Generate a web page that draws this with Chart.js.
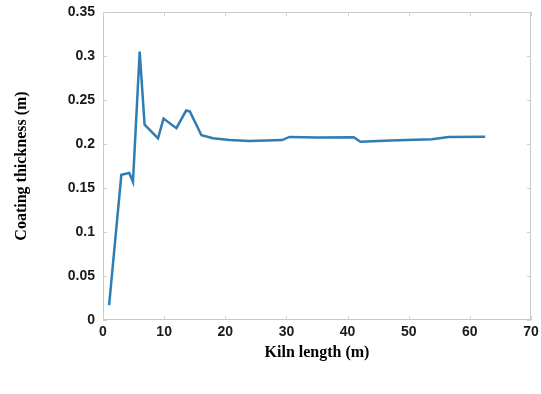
<!DOCTYPE html>
<html><head><meta charset="utf-8">
<script src="https://cdn.jsdelivr.net/npm/chart.js@4"></script>
<style>html,body{margin:0;padding:0;background:#fff}#w{width:541px;height:394px}</style>
</head><body><div id="w"><canvas id="c" width="541" height="394"></canvas></div>
<script>
const kilnLength = [1, 3.0, 4.3, 4.9, 6.0, 6.8, 9.0, 9.9, 12.0, 13.6, 14.2, 16.1, 18, 20.7, 24, 29.3, 30.5, 35, 41, 42.1, 47, 53.8, 56.5, 62.5];
const thickness  = [0.017, 0.165, 0.167, 0.157, 0.305, 0.222, 0.2065, 0.229, 0.218, 0.238, 0.237, 0.210, 0.2065, 0.2045, 0.2035, 0.2045, 0.208, 0.2075, 0.2076, 0.2026, 0.204, 0.2053, 0.208, 0.2083];
const xTicks = [0, 10, 20, 30, 40, 50, 60, 70];
const yTicks = ['0', '0.05', '0.1', '0.15', '0.2', '0.25', '0.3', '0.35'];

const frame = {
  id: 'frame',
  afterDraw(chart) {
    const {ctx, chartArea: a, scales} = chart;
    ctx.save();
    ctx.strokeStyle = '#c8c8c8';
    ctx.lineWidth = 1;
    ctx.strokeRect(a.left + 0.5, a.top + 0.5, a.right - a.left - 1, a.bottom - a.top - 1);
    ctx.strokeStyle = '#d0d0d0';
    ctx.beginPath();
    xTicks.forEach(v => { const x = Math.round(scales.x.getPixelForValue(v)) + 0.5;
      ctx.moveTo(x, a.bottom); ctx.lineTo(x, a.bottom - 4); ctx.moveTo(x, a.top); ctx.lineTo(x, a.top + 4); });
    yTicks.forEach(v => { const y = Math.round(scales.y.getPixelForValue(+v)) + 0.5;
      ctx.moveTo(a.left, y); ctx.lineTo(a.left + 4, y); ctx.moveTo(a.right, y); ctx.lineTo(a.right - 4, y); });
    ctx.stroke();
    ctx.restore();
  }
};

new Chart(document.getElementById('c'), {
  type: 'line',
  data: { datasets: [{
    data: kilnLength.map((x, i) => ({x, y: thickness[i]})),
    borderColor: '#2f7db3', borderWidth: 2.5, pointRadius: 0, tension: 0, fill: false
  }]},
  options: {
    responsive: false, animation: false,
    layout: { padding: { left: 12, right: 10, top: 12, bottom: 28 } },
    plugins: { legend: { display: false }, tooltip: { enabled: false } },
    scales: {
      x: {
        type: 'linear', min: 0, max: 70,
        afterBuildTicks: s => { s.ticks = xTicks.map(v => ({value: v})); },
        afterFit: s => { s.height = 46; },
        grid: { display: false }, border: { display: false },
        ticks: { color: '#1a1a1a', font: { family: 'Liberation Sans', size: 14, weight: 'bold' }, padding: -4, maxRotation: 0 },
        title: { display: true, text: 'Kiln length (m)', color: '#000',
          font: { family: 'Liberation Serif', size: 16, weight: 'bold' }, padding: { top: 10 } }
      },
      y: {
        min: 0, max: 0.35,
        afterBuildTicks: s => { s.ticks = yTicks.map(v => ({value: +v})); },
        afterFit: s => { s.width = 91; },
        grid: { display: false }, border: { display: false },
        ticks: { color: '#1a1a1a', font: { family: 'Liberation Sans', size: 14, weight: 'bold' }, padding: 0,
          callback: (v, i) => yTicks[i] },
        title: { display: true, text: 'Coating thickness (m)', color: '#000',
          font: { family: 'Liberation Serif', size: 16, weight: 'bold' }, padding: { top: 0, bottom: 0 } }
      }
    }
  },
  plugins: [frame]
});
</script></body></html>
